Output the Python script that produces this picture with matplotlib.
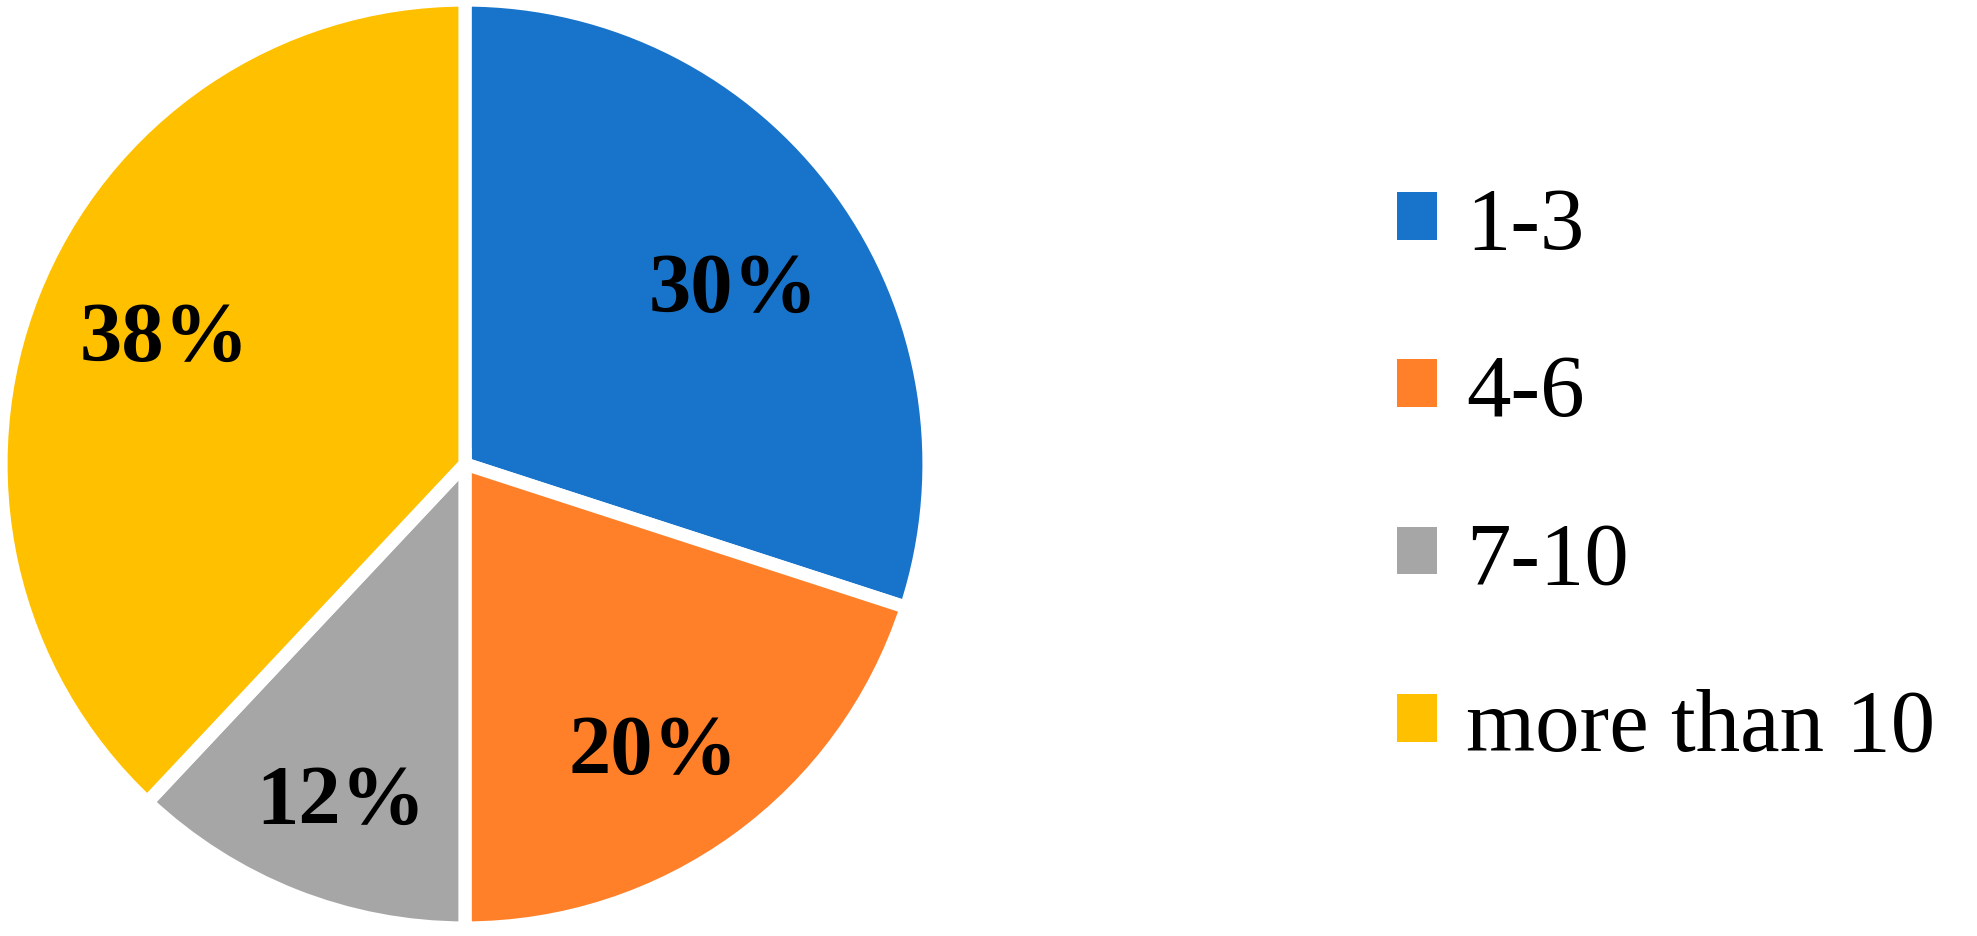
import matplotlib.pyplot as plt
import numpy as np

categories = ['1-3', '4-6', '7-10', 'more than 10']
shares = [30, 20, 12, 38]
colors = ['#1874CB', '#FF8028', '#A6A6A6', '#FFC000']

# label baseline placement: distance from centre (radius units) and angle shift from wedge middle
label_dist = [0.666, 0.779, 0.818, 0.686]
label_shift = [-6.3, -4.6, 2.5, 2.5]

plt.rcParams['font.family'] = ['Liberation Serif', 'DejaVu Serif']

W, H = 1977, 937
fig = plt.figure(figsize=(W / 100, H / 100), dpi=100)

# pie centre and radius in pixels (radius includes the white edge)
cx, cy, r = 465, 465, 464
ax = fig.add_axes([(cx - r) / W, (H - cy - r) / H, 2 * r / W, 2 * r / H])

wedges, _ = ax.pie(shares, colors=colors, startangle=90, counterclock=False,
                   wedgeprops=dict(edgecolor='white', linewidth=9.5))
ax.set_aspect('equal')
ax.set_xlim(-1, 1)
ax.set_ylim(-1, 1)

for w, val, d, s in zip(wedges, shares, label_dist, label_shift):
    mid = np.deg2rad((w.theta1 + w.theta2) / 2 + s)
    ax.text(d * np.cos(mid), d * np.sin(mid), f'{val}%', ha='center', va='baseline',
            fontsize=61, fontweight='bold', color='black')

leg = fig.legend(wedges, categories, loc='center left',
                 bbox_to_anchor=(1397 / W, 1 - 478 / H),
                 frameon=False, fontsize=64, handlelength=0.45, handleheight=0.45,
                 handletextpad=0.33, labelspacing=0.97, borderpad=0, borderaxespad=0)
for h in leg.legend_handles:
    h.set_linewidth(0)

fig.savefig('out.png', dpi=100)
